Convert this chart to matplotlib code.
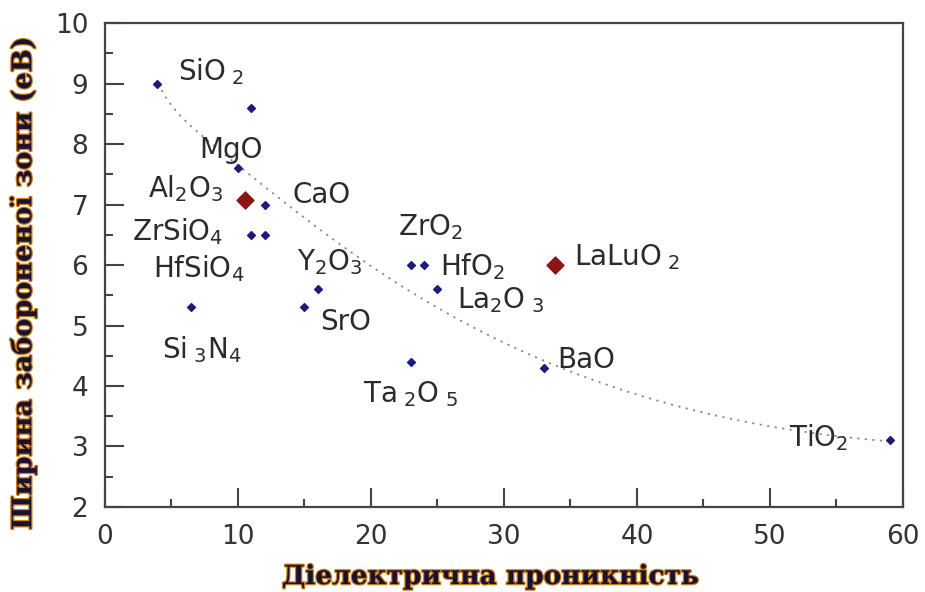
import numpy as np
import matplotlib
matplotlib.use("Agg")
import matplotlib.pyplot as plt
import matplotlib.patheffects as pe

plt.rcParams['font.family'] = ['DejaVu Sans']
plt.rcParams['mathtext.fontset'] = 'dejavusans'

# dielectric constant vs band gap for common oxides
k_blue = [3.9, 11.0, 10.0, 12.0, 11.0, 12.0, 16.0, 23.0, 24.0, 25.0, 6.5, 15.0, 23.0, 33.0, 59.0]
eg_blue = [9.0, 8.6, 7.6, 7.0, 6.5, 6.5, 5.6, 6.0, 6.0, 5.6, 5.3, 5.3, 4.4, 4.3, 3.1]

# highlighted materials
k_red = [10.5, 33.8]
eg_red = [7.07, 6.0]

# points along the dotted trend line
trend_k = [4, 7, 10, 12, 17, 20.5, 26, 33, 37, 44, 52, 59]
trend_eg = [9.0, 8.2, 7.65, 7.3, 6.4, 5.9, 5.25, 4.4, 4.1, 3.55, 3.27, 3.1]

# label text and anchor (left, baseline) in data coords
labels = [r'SiO$_{\ 2}$', 'MgO', r'Al$_2$O$_3$', 'CaO', r'ZrSiO$_4$', r'HfSiO$_4$',
          r'Y$_2$O$_3$', r'ZrO$_2$', r'HfO$_2$', r'La$_2$O$_{\ 3}$', 'SrO',
          r'Si$_{\ 3}$N$_4$', r'Ta$_{\ 2}$O$_{\ 5}$', r'LaLuO$_{\ 2}$', 'BaO', r'TiO$_2$']
label_x = [5.5, 7.1, 3.2, 14.1, 2.0, 3.6, 14.4, 22.0, 25.2, 26.5, 16.2, 4.3, 19.4, 35.3, 34.0, 51.4]
label_y = [9.06, 7.77, 7.12, 7.02, 6.41, 5.8, 5.92, 6.5, 5.83, 5.29, 4.93, 4.46, 3.74, 6.0, 4.3, 3.0]

fig = plt.figure(figsize=(9.25, 5.92), dpi=100)
ax = fig.add_axes([0.1135, 0.1436, 0.8627, 0.8175])

# smooth trend through the read-off points (quartic in log k)
coef = np.polyfit(np.log(trend_k), trend_eg, 4)
kk = np.linspace(trend_k[0], trend_k[-1], 300)
ax.plot(kk, np.polyval(coef, np.log(kk)), color='#8a8a8a', lw=1.3,
        linestyle=(0, (1.2, 3.0)), zorder=1)

ax.scatter(k_blue, eg_blue, marker='D', s=16, color='#1c1c7a', zorder=3)
ax.scatter(k_red, eg_red, marker='D', s=75, color='#8b1414', zorder=3)

for txt, lx, ly in zip(labels, label_x, label_y):
    ax.text(lx, ly, txt, fontsize=20, color='#2b2b2b', ha='left', va='baseline')

ax.set_xlim(0, 60)
ax.set_ylim(2, 10)
ax.set_xticks(np.arange(0, 61, 10))
ax.set_xticks(np.arange(5, 60, 10), minor=True)
ax.set_yticks(np.arange(2, 11, 1))
ax.set_yticks(np.arange(2.5, 10, 1), minor=True)
ax.tick_params(which='both', direction='in', color='#444444', width=1.5,
               labelsize=19, labelcolor='#333333', top=False, right=False)
ax.tick_params(which='major', length=14, pad=12)
ax.tick_params(which='minor', length=6)
for sp in ax.spines.values():
    sp.set_color('#444444')
    sp.set_linewidth(1.6)

glow = [pe.withStroke(linewidth=1.8, foreground='#c8801e')]
fig.text(0.53, 0.005, 'Діелектрична проникність', family='DejaVu Serif',
         fontweight='bold', fontsize=19, color='#1a1030', ha='center', va='bottom',
         path_effects=glow)
fig.text(0.01, 0.522, 'Ширина забороненої зони (еВ)', family='DejaVu Serif',
         fontweight='bold', fontsize=19.5, color='#1a1030', ha='left', va='center',
         rotation=90, path_effects=glow)

fig.savefig('out.png', dpi=100)
